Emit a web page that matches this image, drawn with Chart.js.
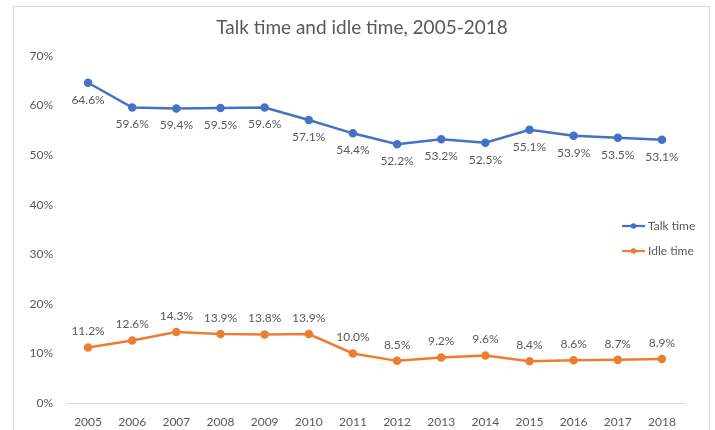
<!DOCTYPE html>
<html>
<head>
<meta charset="utf-8">
<script src="https://cdn.jsdelivr.net/npm/chart.js@4/dist/chart.umd.min.js"></script>
<style>
    body { margin: 0; background: #fff; }
    #wrap { position: relative; width: 715px; height: 430px; overflow: hidden; }
    #frame { position: absolute; left: 13px; top: 6px; width: 695px; height: 440px; border: 1px solid #d9d9d9; }
    #chart { position: absolute; left: 0; top: 0; }
</style>
</head>
<body>
<div id="wrap">
    <div id="frame"></div>
    <canvas id="chart" width="715" height="430"></canvas>
</div>
<script>
// Data
const years = ['2005', '2006', '2007', '2008', '2009', '2010', '2011', '2012', '2013', '2014', '2015', '2016', '2017', '2018'];
const talkTime = [64.6, 59.6, 59.4, 59.5, 59.6, 57.1, 54.4, 52.2, 53.2, 52.5, 55.1, 53.9, 53.5, 53.1];
const idleTime = [11.2, 12.6, 14.3, 13.9, 13.8, 13.9, 10.0, 8.5, 9.2, 9.6, 8.4, 8.6, 8.7, 8.9];
const yTicks = [0, 10, 20, 30, 40, 50, 60, 70];
const chartTitle = 'Talk time and idle time, 2005-2018';

const textColor = '#595959';
const fontFamily = 'Lato, "Noto Sans", sans-serif';
const blue = '#4472C4';
const orange = '#ED7D31';

// Title centred on the whole frame (not on the plot area)
const frameTitle = {
    id: 'frameTitle',
    afterDraw(chart) {
        const ctx = chart.ctx;
        ctx.save();
        ctx.font = '19px ' + fontFamily;
        ctx.fillStyle = textColor;
        ctx.textAlign = 'center';
        ctx.textBaseline = 'middle';
        ctx.fillText(chartTitle, 362, 28);
        ctx.restore();
    }
};

// Value labels next to each point (below for talk time, above for idle time)
const pointLabels = {
    id: 'pointLabels',
    afterDatasetsDraw(chart) {
        const ctx = chart.ctx;
        ctx.save();
        ctx.font = '12px ' + fontFamily;
        ctx.fillStyle = textColor;
        ctx.textAlign = 'center';
        ctx.textBaseline = 'middle';
        chart.data.datasets.forEach((ds, i) => {
            const meta = chart.getDatasetMeta(i);
            const shift = ds.labelPos === 'below' ? 17 : -16;
            meta.data.forEach((pt, j) => {
                ctx.fillText(ds.data[j].toFixed(1) + '%', pt.x, pt.y + shift);
            });
        });
        ctx.restore();
    }
};

// Legend drawn inside the plot area, on the right
const sideLegend = {
    id: 'sideLegend',
    afterDraw(chart) {
        const ctx = chart.ctx;
        const x0 = chart.chartArea.right - 62;
        ctx.save();
        ctx.font = '12px ' + fontFamily;
        ctx.textAlign = 'left';
        ctx.textBaseline = 'middle';
        chart.data.datasets.forEach((ds, i) => {
            const y = 226 + i * 25;
            ctx.strokeStyle = ds.borderColor;
            ctx.lineWidth = 2.25;
            ctx.beginPath();
            ctx.moveTo(x0, y);
            ctx.lineTo(x0 + 23, y);
            ctx.stroke();
            ctx.fillStyle = ds.borderColor;
            ctx.beginPath();
            ctx.arc(x0 + 11.5, y, 2.8, 0, Math.PI * 2);
            ctx.fill();
            ctx.fillStyle = textColor;
            ctx.fillText(ds.label, x0 + 26, y);
        });
        ctx.restore();
    }
};

new Chart(document.getElementById('chart'), {
    type: 'line',
    data: {
        labels: years,
        datasets: [
            {
                label: 'Talk time',
                data: talkTime,
                borderColor: blue,
                backgroundColor: blue,
                borderWidth: 2.5,
                pointRadius: 3,
                pointHoverRadius: 3,
                labelPos: 'below'
            },
            {
                label: 'Idle time',
                data: idleTime,
                borderColor: orange,
                backgroundColor: orange,
                borderWidth: 2.5,
                pointRadius: 3,
                pointHoverRadius: 3,
                labelPos: 'above'
            }
        ]
    },
    options: {
        responsive: false,
        animation: false,
        layout: { padding: { left: 0, right: 31, top: 56, bottom: 0 } },
        plugins: {
            legend: { display: false },
            tooltip: { enabled: false },
            title: { display: false }
        },
        scales: {
            x: {
                offset: true,
                grid: { display: false, drawTicks: false },
                border: { display: true, color: '#d9d9d9', width: 1 },
                ticks: {
                    color: textColor,
                    font: { family: fontFamily, size: 12 },
                    padding: 12,
                    maxRotation: 0,
                    autoSkip: false
                },
                afterFit(scale) { scale.height = 27; }
            },
            y: {
                min: yTicks[0],
                max: yTicks[yTicks.length - 1],
                grid: { display: false, drawTicks: false },
                border: { display: false },
                afterBuildTicks(scale) { scale.ticks = yTicks.map(v => ({ value: v })); },
                ticks: {
                    color: textColor,
                    font: { family: fontFamily, size: 12 },
                    padding: 13,
                    callback: v => v + '%'
                },
                afterFit(scale) { scale.width = 66; }
            }
        }
    },
    plugins: [frameTitle, pointLabels, sideLegend]
});
</script>
</body>
</html>
